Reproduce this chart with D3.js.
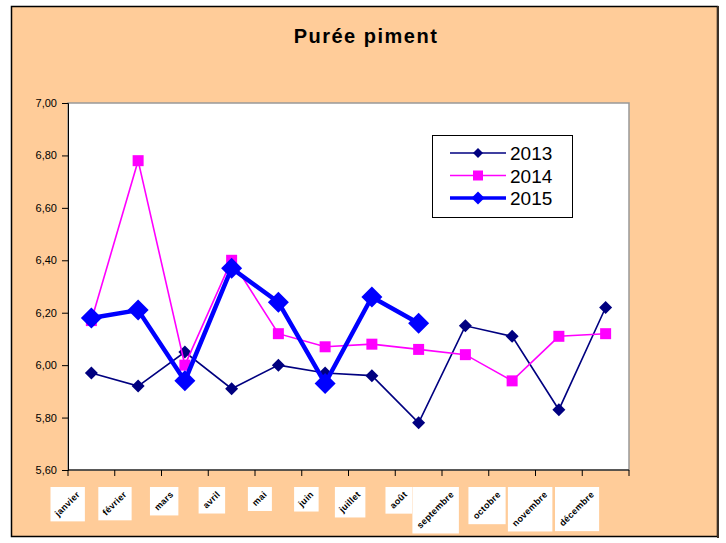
<!DOCTYPE html>
<html>
<head>
<meta charset="utf-8">
<script src="https://cdn.jsdelivr.net/npm/d3@7"></script>
<style>
  body { margin: 0; background: #fff; }
  svg { display: block; font-family: "Liberation Sans", Arial, sans-serif; }
</style>
</head>
<body>
<div id="chart"></div>
<script>
// DATA ///////////////////////////////////////////////////////////////////////
const months = ["janvier", "février", "mars", "avril", "mai", "juin",
                "juillet", "août", "septembre", "octobre", "novembre", "décembre"];
const v2013 = [5.97, 5.92, 6.05, 5.91, 6.00, 5.97, 5.96, 5.78, 6.15, 6.11, 5.83, 6.22];
const v2014 = [6.17, 6.78, 6.00, 6.40, 6.12, 6.07, 6.08, 6.06, 6.04, 5.94, 6.11, 6.12];
const v2015 = [6.18, 6.21, 5.94, 6.37, 6.24, 5.93, 6.26, 6.16, null, null, null, null];
const yTicks = [5.6, 5.8, 6.0, 6.2, 6.4, 6.6, 6.8, 7.0];

(function() {
    const W = 726, H = 543;
    const plot = {left: 68, right: 629, top: 103, bottom: 470};

    const svg = d3.select("#chart").append("svg")
        .attr("width", W).attr("height", H);

    // Outer frame
    svg.append("rect")
        .attr("x", 11.5).attr("y", 6.5).attr("width", 706).attr("height", 530)
        .attr("fill", "#FFCC99").attr("stroke", "#000").attr("stroke-width", 1.5);
    svg.append("line")
        .attr("x1", 718).attr("x2", 718).attr("y1", 6).attr("y2", 538)
        .attr("stroke", "#3a3028").attr("stroke-width", 2);

    // Title
    svg.append("text")
        .attr("x", 366).attr("y", 43)
        .attr("text-anchor", "middle")
        .attr("font-size", 20).attr("font-weight", "bold")
        .attr("letter-spacing", 1.5)
        .text("Purée piment");

    // Plot area
    svg.append("rect")
        .attr("x", plot.left).attr("y", plot.top)
        .attr("width", plot.right - plot.left).attr("height", plot.bottom - plot.top)
        .attr("fill", "#fff").attr("stroke", "#999").attr("stroke-width", 1.5);

    const x = d3.scaleBand().domain(months).range([plot.left, plot.right]);
    const y = d3.scaleLinear().domain([5.6, 7.0]).range([plot.bottom, plot.top]);
    const cx = d => x(d) + x.bandwidth() / 2;

    // Y axis
    const fmt = d3.format(".2f");
    const yAxis = svg.append("g")
        .attr("transform", `translate(${plot.left},0)`)
        .call(d3.axisLeft(y).tickValues(yTicks).tickSize(6).tickPadding(5)
            .tickFormat(d => fmt(d).replace(".", ",")));
    yAxis.selectAll("text").attr("font-size", 11).attr("fill", "#000")
        .attr("font-family", "Liberation Sans, Arial, sans-serif");
    yAxis.selectAll("line,path").attr("stroke", "#000");

    // X axis: ticks at band boundaries
    const xAxis = svg.append("g")
        .attr("transform", `translate(0,${plot.bottom})`);
    xAxis.append("line")
        .attr("x1", plot.left).attr("x2", plot.right)
        .attr("stroke", "#000");
    xAxis.selectAll(".tk")
        .data(months.concat(["_end"]))
        .enter().append("line")
        .attr("class", "tk")
        .attr("x1", (d, i) => plot.left + i * x.bandwidth())
        .attr("x2", (d, i) => plot.left + i * x.bandwidth())
        .attr("y1", 0).attr("y2", 6)
        .attr("stroke", "#000");

    // Month labels: rotated text on white squares, top-right corner under the category
    const fs = 9, k = Math.SQRT1_2;
    const lab = svg.selectAll(".mlab")
        .data(months)
        .enter().append("g")
        .attr("class", "mlab")
        .attr("transform", d => `translate(${cx(d) - 6.5},487)`);
    lab.each(function(d) {
        const g = d3.select(this);
        const rect = g.append("rect").attr("fill", "#fff");
        const t = g.append("text")
            .attr("text-anchor", "end")
            .attr("font-size", fs).attr("font-weight", "bold")
            .attr("letter-spacing", 0.3)
            .attr("fill", "#000")
            .text(d);
        const L = t.node().getComputedTextLength();
        const s = k * (L + fs) + 6;
        rect.attr("x", -s).attr("y", 0).attr("width", s).attr("height", s);
        t.attr("transform", `translate(${-3 - k * fs * 0.22},${3 + k * fs * 0.78}) rotate(-45)`);
    });

    // SERIES /////////////////////////////////////////////////////////////////
    const series = [
        {name: "2013", values: v2013, color: "#000080", width: 1.6, shape: "diamond", r: 6.5},
        {name: "2014", values: v2014, color: "#FF00FF", width: 1.6, shape: "square", r: 5.5},
        {name: "2015", values: v2015, color: "#0000FF", width: 4.5, shape: "diamond", r: 10.5}
    ];

    function markerPath(shape, r) {
        if (shape === "square") return `M${-r},${-r}H${r}V${r}H${-r}Z`;
        return `M0,${-r}L${r},0L0,${r}L${-r},0Z`;
    }

    series.forEach(function(s) {
        const pts = months.map((m, i) => ({m: m, v: s.values[i]}))
            .filter(p => p.v !== null);
        const line = d3.line().x(p => cx(p.m)).y(p => y(p.v));
        svg.append("path")
            .datum(pts)
            .attr("d", line)
            .attr("fill", "none")
            .attr("stroke", s.color)
            .attr("stroke-width", s.width)
            .attr("stroke-linejoin", "miter");
        svg.selectAll(".mk" + s.name)
            .data(pts)
            .enter().append("path")
            .attr("class", "mk" + s.name)
            .attr("transform", p => `translate(${cx(p.m)},${y(p.v)})`)
            .attr("d", markerPath(s.shape, s.r))
            .attr("fill", s.color);
    });

    // LEGEND /////////////////////////////////////////////////////////////////
    const leg = svg.append("g").attr("transform", "translate(432,135)");
    leg.append("rect")
        .attr("x", 0.5).attr("y", 0.5).attr("width", 140).attr("height", 82)
        .attr("fill", "#fff").attr("stroke", "#000");
    const legMk = {"2013": 5, "2014": 5, "2015": 6.5};
    series.forEach(function(s, i) {
        const row = leg.append("g").attr("transform", `translate(0,${18 + i * 22.5})`);
        row.append("line")
            .attr("x1", 18).attr("x2", 74)
            .attr("stroke", s.color).attr("stroke-width", s.width * 0.8);
        row.append("path")
            .attr("transform", "translate(46,0)")
            .attr("d", markerPath(s.shape, legMk[s.name]))
            .attr("fill", s.color);
        row.append("text")
            .attr("x", 78).attr("y", 7)
            .attr("font-size", 19)
            .text(s.name);
    });
})();
</script>
</body>
</html>
